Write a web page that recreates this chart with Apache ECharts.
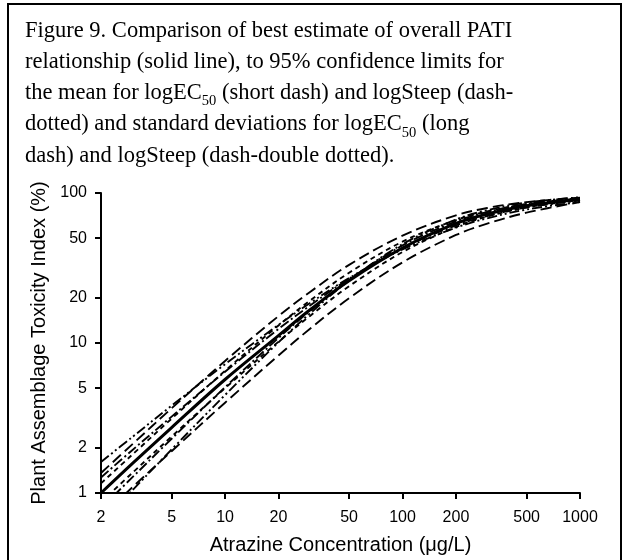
<!DOCTYPE html>
<html><head><meta charset="utf-8">
<script src="https://cdn.jsdelivr.net/npm/echarts@6/dist/echarts.min.js"></script>
<style>html,body{margin:0;padding:0;background:#fff}#c{width:631px;height:560px}</style>
</head><body><div id="c"></div>
<script>
// concentrations (µg/L)
const xs = [2, 3, 5, 10, 20, 30, 50, 100, 200, 300, 500, 1000];
const xTicks = [2, 5, 10, 20, 50, 100, 200, 500, 1000];
const yTicks = [1, 2, 5, 10, 20, 50, 100];
// best estimate (solid)
const best = [1.00, 1.57, 2.73, 5.71, 11.2, 16.6, 26.0, 43.0, 62.7, 72.5, 82.3, 91.0];
// 95% CL mean logEC50 (short dash)
const ec50CIHi = [1.16, 1.80, 3.13, 6.53, 13.1, 19.1, 29.4, 47.4, 66.0, 75.3, 84.3, 92.1];
const ec50CILo = [0.87, 1.36, 2.38, 5.00, 10.2, 15.1, 23.9, 40.4, 59.4, 69.6, 80.2, 89.7];
// 95% CL mean logSteep (dash-dotted)
const stCIHi = [1.27, 1.93, 3.23, 6.43, 12.4, 17.7, 26.8, 43.0, 60.8, 70.3, 80.1, 89.2];
const stCILo = [0.79, 1.27, 2.30, 5.07, 10.8, 16.3, 26.3, 44.7, 64.7, 74.7, 84.4, 92.5];
// SD logEC50 (long dash)
const ec50SDHi = [1.36, 2.11, 3.67, 7.59, 15.1, 21.8, 33.2, 52.0, 71.0, 79.5, 87.0, 93.2];
const ec50SDLo = [0.69, 1.09, 1.90, 4.00, 8.26, 12.4, 19.9, 34.5, 52.5, 62.5, 74.0, 87.0];
// SD logSteep (dash-double dotted)
const stSDHi = [1.61, 2.36, 3.82, 7.22, 13.2, 18.4, 27.1, 42.1, 58.7, 67.8, 77.6, 87.2];
const stSDLo = [0.63, 1.04, 1.95, 4.50, 10.1, 15.7, 26.1, 45.6, 66.6, 76.8, 86.3, 93.7];

const titleLines = [
  'Figure 9. Comparison of best estimate of overall PATI',
  'relationship (solid line), to 95% confidence limits for',
  'the mean for logEC{sub|50} (short dash) and logSteep (dash-',
  'dotted) and standard deviations for logEC{sub|50} (long',
  'dash) and logSteep (dash-double dotted).'
];

function pts(v){ return xs.map((x,i)=>[x, v[i]]); }
function ser(name, v, dash, w){
  return {name, type:'line', data: pts(v), smooth: 0.35, symbol:'none', clip:true,
    lineStyle:{color:'#000', width:w, type: dash}, z: w>2?5:3};
}
const SHORT=[5,4], LONG=[11,5], DDOT=[10,3,2,3], DDDOT=[10,3,2,3,2,3];

const chart = echarts.init(document.getElementById('c'), null, {renderer:'canvas'});
chart.setOption({
  animation:false,
  backgroundColor:'#fff',
  title:{
    text: titleLines.join('\n'),
    left: 25, top: 15, padding: 0,
    textStyle:{fontFamily:'Liberation Serif', fontSize:22.5, fontWeight:'normal', color:'#000', lineHeight:31.3,
      rich:{sub:{fontFamily:'Liberation Serif', fontSize:14.5, lineHeight:18, verticalAlign:'bottom', color:'#000'}}}
  },
  graphic:[{type:'rect', shape:{x:8, y:4, width:613, height:600}, style:{fill:'none', stroke:'#000', lineWidth:2}, silent:true}],
  grid:{left:101, right:51, top:193, bottom:67},
  xAxis:{type:'log', logBase:10, min:2, max:1000,
    name:'Atrazine Concentration (μg/L)', nameLocation:'middle', nameGap:42,
    nameTextStyle:{fontFamily:'Liberation Sans', fontSize:20, color:'#000'},
    axisLine:{lineStyle:{color:'#000', width:2}},
    axisTick:{show:true, inside:false, length:6, lineStyle:{color:'#000', width:2}, customValues:xTicks},
    axisLabel:{color:'#000', fontFamily:'Liberation Sans', fontSize:16, margin:17, customValues:xTicks, hideOverlap:false, showMinLabel:true, showMaxLabel:true,
      formatter:(v)=>String(Math.round(v))},
    minorTick:{show:false}, splitLine:{show:false}},
  yAxis:{type:'log', logBase:10, min:1, max:100,
    name:'Plant Assemblage Toxicity Index (%)', nameLocation:'middle', nameGap:41,
    nameTextStyle:{fontFamily:'Liberation Sans', fontSize:20, color:'#000'},
    axisLine:{show:true, lineStyle:{color:'#000', width:2}},
    axisTick:{show:true, inside:false, length:6, lineStyle:{color:'#000', width:2}, customValues:yTicks},
    axisLabel:{color:'#000', fontFamily:'Liberation Sans', fontSize:16, margin:14, customValues:yTicks, hideOverlap:false, showMinLabel:true, showMaxLabel:true,
      formatter:(v)=>String(Math.round(v))},
    minorTick:{show:false}, splitLine:{show:false}},
  series:[
    ser('SD logEC50 upper', ec50SDHi, LONG, 1.9),
    ser('SD logEC50 lower', ec50SDLo, LONG, 1.9),
    ser('SD logSteep upper', stSDHi, DDDOT, 1.9),
    ser('SD logSteep lower', stSDLo, DDDOT, 1.9),
    ser('CL logSteep upper', stCIHi, DDOT, 1.9),
    ser('CL logSteep lower', stCILo, DDOT, 1.9),
    ser('CL logEC50 upper', ec50CIHi, SHORT, 1.9),
    ser('CL logEC50 lower', ec50CILo, SHORT, 1.9),
    ser('Best estimate', best, 'solid', 3)
  ]
});
</script></body></html>
